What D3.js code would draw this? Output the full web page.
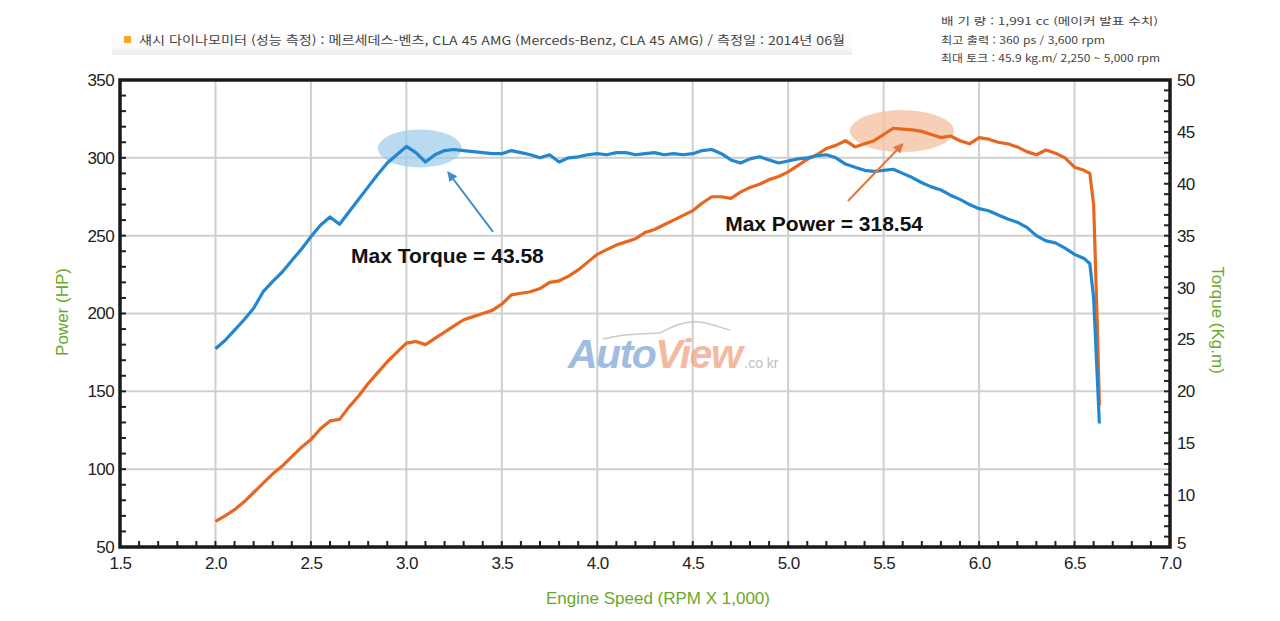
<!DOCTYPE html>
<html lang="ko">

<head>
    <meta charset="UTF-8">
    <title>dyno chart</title>
    <script src="https://cdn.jsdelivr.net/npm/d3@7"></script>
    <style>
        body {
            margin: 0;
            background: #ffffff;
        }

        .tick-lbl {
            font-family: "Liberation Sans", Arial, sans-serif;
            font-size: 17px;
            fill: #222;
        }

        .axis-title {
            font-family: "Liberation Sans", Arial, sans-serif;
            font-size: 17px;
            fill: #6aa82a;
        }

        .note {
            font-family: "Liberation Sans", Arial, sans-serif;
            font-size: 21px;
            font-weight: bold;
            fill: #111;
        }

        .kr {
            font-family: "Noto Sans CJK KR", sans-serif;
            fill: #444;
        }
    </style>
</head>

<body>
    <svg id="chart" width="1280" height="621"></svg>

    <script>
        // engine speed (x 1,000 rpm)
        let rpm = [2.00, 2.05, 2.10, 2.15, 2.20, 2.25, 2.30, 2.35, 2.40, 2.45,
            2.50, 2.55, 2.60, 2.65, 2.70, 2.75, 2.80, 2.85, 2.90, 2.95,
            3.00, 3.05, 3.10, 3.15, 3.20, 3.25, 3.30, 3.35, 3.40, 3.45,
            3.50, 3.55, 3.60, 3.65, 3.70, 3.75, 3.80, 3.85, 3.90, 3.95,
            4.00, 4.05, 4.10, 4.15, 4.20, 4.25, 4.30, 4.35, 4.40, 4.45,
            4.50, 4.55, 4.60, 4.65, 4.70, 4.75, 4.80, 4.85, 4.90, 4.95,
            5.00, 5.05, 5.10, 5.15, 5.20, 5.25, 5.30, 5.35, 5.40, 5.45,
            5.50, 5.55, 5.60, 5.65, 5.70, 5.75, 5.80, 5.85, 5.90, 5.95,
            6.00, 6.05, 6.10, 6.15, 6.20, 6.25, 6.30, 6.35, 6.40, 6.45,
            6.50, 6.55, 6.58, 6.60, 6.61, 6.62, 6.63]

        // power (HP), left axis
        let power = [66.5, 70, 74, 79, 85, 91, 97, 102, 108, 114,
            119, 126, 131, 132, 140, 147, 155, 162, 169, 175,
            181, 182, 180, 184, 188, 192, 196, 198, 200, 202,
            206, 212, 213, 214, 216, 220, 221, 224, 228, 233,
            238, 241, 244, 246, 248, 252, 254, 257, 260, 263,
            266, 271, 275, 275, 274, 278, 281, 283, 286, 288,
            291, 295, 299, 302, 306, 308, 311, 307, 309, 311,
            315, 319, 318.5, 318, 317, 315, 313, 314, 311, 309,
            313, 312, 310, 309, 307, 304, 302, 305, 303, 300,
            294, 292, 290, 270, 230, 190, 141]

        // torque (kg.m), right axis
        let torque = [24.1, 24.9, 25.9, 26.9, 28.0, 29.6, 30.6, 31.5, 32.6, 33.7,
            34.9, 36.0, 36.8, 36.1, 37.3, 38.5, 39.7, 40.9, 42.0, 42.8,
            43.6, 43.0, 42.1, 42.8, 43.2, 43.3, 43.2, 43.1, 43.0, 42.9,
            42.9, 43.2, 43.0, 42.8, 42.5, 42.8, 42.1, 42.5, 42.6, 42.8,
            42.9, 42.8, 43.0, 43.0, 42.8, 42.9, 43.0, 42.8, 42.9, 42.8,
            42.9, 43.2, 43.3, 42.9, 42.3, 42.0, 42.4, 42.6, 42.3, 42.0,
            42.2, 42.4, 42.5, 42.7, 42.8, 42.5, 41.9, 41.6, 41.3, 41.2,
            41.3, 41.4, 41.0, 40.6, 40.1, 39.7, 39.4, 38.9, 38.5, 38.0,
            37.6, 37.4, 37.0, 36.6, 36.3, 35.8, 35.0, 34.5, 34.3, 33.8,
            33.2, 32.8, 32.3, 29.0, 25.0, 21.0, 16.9]

        let xTicks = [1.5, 2.0, 2.5, 3.0, 3.5, 4.0, 4.5, 5.0, 5.5, 6.0, 6.5, 7.0]
        let powerTicks = [50, 100, 150, 200, 250, 300, 350]
        let torqueTicks = [5, 10, 15, 20, 25, 30, 35, 40, 45, 50]

        let header = "섀시 다이나모미터 (성능 측정)  :  메르세데스-벤츠, CLA 45 AMG  (Merceds-Benz, CLA 45 AMG) / 측정일 : 2014년 06월"
        let specs = ["배  기  량 : 1,991 cc   (메이커 발표 수치)",
            "최고 출력 : 360 ps / 3,600 rpm",
            "최대 토크 : 45.9 kg.m/ 2,250 ~ 5,000 rpm"]

        let svg = d3.select("#chart")
        svg.append("rect").attr("width", 1280).attr("height", 621).attr("fill", "#fff")

        let x = d3.scaleLinear().domain([1.5, 7.0]).range([120, 1170])
        let yP = d3.scaleLinear().domain([50, 350]).range([547, 80])
        let yT = d3.scaleLinear().domain([5, 50]).range([547, 80])

        // header band
        let defs = svg.append("defs")
        let grad = defs.append("linearGradient").attr("id", "band")
            .attr("x1", 0).attr("y1", 0).attr("x2", 0).attr("y2", 1)
        grad.append("stop").attr("offset", "0%").attr("stop-color", "#fff")
        grad.append("stop").attr("offset", "70%").attr("stop-color", "#fafafa")
        grad.append("stop").attr("offset", "100%").attr("stop-color", "#ececec")
        svg.append("rect").attr("x", 112).attr("y", 27).attr("width", 740).attr("height", 28)
            .attr("fill", "url(#band)")
        svg.append("rect").attr("x", 124).attr("y", 36).attr("width", 7).attr("height", 7)
            .attr("fill", "#f5a623")
        svg.append("text").attr("class", "kr")
            .attr("x", 139).attr("y", 45)
            .attr("font-size", 12)
            .attr("textLength", 706).attr("lengthAdjust", "spacingAndGlyphs")
            .attr("fill", "#444")
            .text(header)

        let specW = [217, 164, 219]
        svg.selectAll(".spec").data(specs).join("text")
            .attr("class", "kr spec")
            .attr("x", 941)
            .attr("y", (d, i) => 25 + i * 18.5)
            .attr("font-size", 10)
            .attr("textLength", (d, i) => specW[i]).attr("lengthAdjust", "spacingAndGlyphs")
            .text(d => d)

        // grid
        let g = svg.append("g")
        g.selectAll(".vg").data(xTicks.slice(1, -1)).join("line")
            .attr("x1", d => x(d)).attr("x2", d => x(d))
            .attr("y1", 80).attr("y2", 547)
            .attr("stroke", "#cfcfcf").attr("stroke-width", 2)
        g.selectAll(".hg").data(powerTicks.slice(1, -1)).join("line")
            .attr("x1", 120).attr("x2", 1170)
            .attr("y1", d => yP(d)).attr("y2", d => yP(d))
            .attr("stroke", "#cfcfcf").attr("stroke-width", 2)

        // watermark
        let wm = svg.append("g").attr("opacity", 0.75)
        wm.append("path")
            .attr("d", "M603,339 C625,333 645,334 660,333 C672,326 685,320 700,322 C712,324 722,328 730,330")
            .attr("fill", "none").attr("stroke", "#b9b9b9").attr("stroke-width", 1.5)
        let wt = wm.append("text").attr("x", 568).attr("y", 368)
            .attr("font-family", "Liberation Sans, Arial, sans-serif")
            .attr("font-weight", "bold").attr("font-style", "italic")
        wt.append("tspan").attr("font-size", 41).attr("letter-spacing", -1.5)
            .attr("fill", "#7fa6d8").text("Auto")
        wt.append("tspan").attr("font-size", 41).attr("letter-spacing", -1.5)
            .attr("fill", "#f0a383").text("View")
        wt.append("tspan").attr("font-size", 14).attr("font-weight", "normal")
            .attr("font-style", "normal").attr("dx", 3)
            .attr("fill", "#aaa").text(".co kr")

        // highlight ellipses
        svg.append("ellipse")
            .attr("cx", x(3.07)).attr("cy", yT(43.4))
            .attr("rx", 42).attr("ry", 19)
            .attr("fill", "#9ccbec").attr("opacity", 0.7)
        svg.append("ellipse")
            .attr("cx", x(5.596)).attr("cy", yP(317.2))
            .attr("rx", 52).attr("ry", 21)
            .attr("fill", "#f5c3a5").attr("opacity", 0.8)

        // series lines
        let torqueLine = d3.line().x((d, i) => x(rpm[i])).y(d => yT(d))
        let powerLine = d3.line().x((d, i) => x(rpm[i])).y(d => yP(d))

        svg.append("path").datum(power)
            .attr("d", powerLine)
            .attr("fill", "none").attr("stroke", "#e8671f")
            .attr("stroke-width", 3.2).attr("stroke-linejoin", "round")
        svg.append("path").datum(torque)
            .attr("d", torqueLine)
            .attr("fill", "none").attr("stroke", "#2287cf")
            .attr("stroke-width", 3.2).attr("stroke-linejoin", "round")

        // arrows
        let arrowColor = {blue: "#3a8fcc", orange: "#e8743a"}
        Object.keys(arrowColor).forEach(function (k) {
            defs.append("marker").attr("id", "ah-" + k)
                .attr("viewBox", "0 0 10 10").attr("refX", 9).attr("refY", 5)
                .attr("markerWidth", 5).attr("markerHeight", 5)
                .attr("orient", "auto")
                .append("path").attr("d", "M0,0 L10,5 L0,10 z").attr("fill", arrowColor[k])
        })
        svg.append("line")
            .attr("x1", x(3.454)).attr("y1", yP(252.4))
            .attr("x2", x(3.218)).attr("y2", yP(290.9))
            .attr("stroke", arrowColor.blue).attr("stroke-width", 2)
            .attr("marker-end", "url(#ah-blue)")
        svg.append("line")
            .attr("x1", x(5.313)).attr("y1", yP(272.3))
            .attr("x2", x(5.60)).attr("y2", yP(308.9))
            .attr("stroke", arrowColor.orange).attr("stroke-width", 2)
            .attr("marker-end", "url(#ah-orange)")

        svg.append("text").attr("class", "note")
            .attr("x", x(2.71)).attr("y", yP(232.4))
            .text("Max Torque = 43.58")
        svg.append("text").attr("class", "note")
            .attr("x", x(4.67)).attr("y", yP(253))
            .text("Max Power = 318.54")

        // minor ticks (inward)
        let ax = svg.append("g")
        ax.selectAll(".mx").data(d3.range(1.5, 7.05, 0.1)).join("line")
            .attr("x1", d => x(d)).attr("x2", d => x(d))
            .attr("y1", 547).attr("y2", 541)
            .attr("stroke", "#222").attr("stroke-width", 2)
        ax.selectAll(".mp").data(d3.range(50, 351, 10)).join("line")
            .attr("x1", 120).attr("x2", 126)
            .attr("y1", d => yP(d)).attr("y2", d => yP(d))
            .attr("stroke", "#222").attr("stroke-width", 2)
        ax.selectAll(".mt").data(d3.range(5, 51, 1)).join("line")
            .attr("x1", 1170).attr("x2", 1164)
            .attr("y1", d => yT(d)).attr("y2", d => yT(d))
            .attr("stroke", "#222").attr("stroke-width", 2)

        // frame
        svg.append("rect").attr("x", 120).attr("y", 80).attr("width", 1050).attr("height", 467)
            .attr("fill", "none").attr("stroke", "#1a1a1a").attr("stroke-width", 3.5)

        // tick labels through axes
        let left = svg.append("g").attr("transform", "translate(120,0)")
            .call(d3.axisLeft(yP).tickValues(powerTicks).tickSize(0).tickPadding(6))
        let right = svg.append("g").attr("transform", "translate(1170,0)")
            .call(d3.axisRight(yT).tickValues(torqueTicks).tickSize(0).tickPadding(7))
        let bottom = svg.append("g").attr("transform", "translate(0,547)")
            .call(d3.axisBottom(x).tickValues(xTicks).tickSize(0).tickPadding(10)
                .tickFormat(d3.format(".1f")))
        for (let a of [left, right, bottom]) {
            a.select(".domain").remove()
            a.selectAll("text").attr("class", "tick-lbl").attr("font-family", null).attr("font-size", null)
                .attr("letter-spacing", -0.6)
        }
        // lowest torque label sits a little above the corner
        right.selectAll(".tick").filter(d => d === 5).select("text").attr("dy", "0.1em")

        // axis titles
        svg.append("text").attr("class", "axis-title")
            .attr("transform", "translate(68,312) rotate(-90)")
            .attr("text-anchor", "middle").text("Power (HP)")
        svg.append("text").attr("class", "axis-title")
            .attr("transform", "translate(1212,320) rotate(90)")
            .attr("text-anchor", "middle").text("Torque (Kg.m)")
        svg.append("text").attr("class", "axis-title")
            .attr("x", 658).attr("y", 604).attr("font-size", 18)
            .attr("text-anchor", "middle").text("Engine Speed (RPM X 1,000)")
    </script>
</body>

</html>
